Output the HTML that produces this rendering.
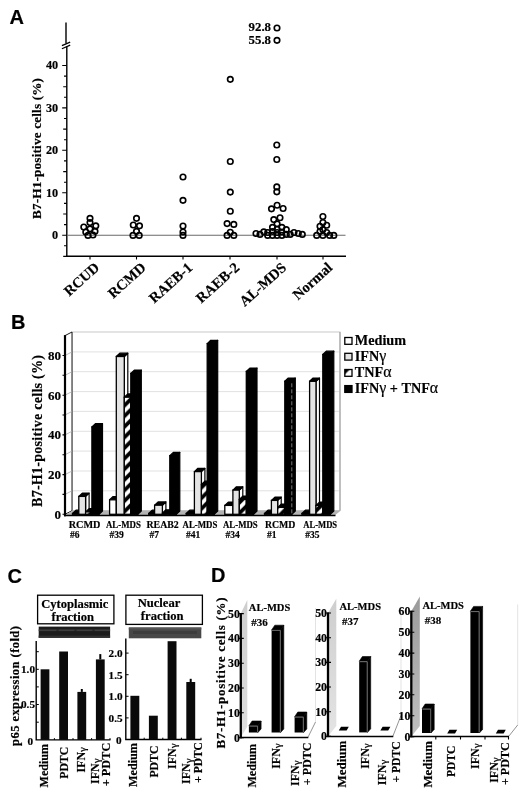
<!DOCTYPE html>
<html><head><meta charset="utf-8"><title>Figure</title>
<style>html,body{margin:0;padding:0;background:#fff}svg{display:block}text{fill:#000;stroke:#000;stroke-width:.18px}</style>
</head><body>
<svg width="520" height="788" viewBox="0 0 520 788">
<rect width="520" height="788" fill="#fff"/>
<text x="9.5" y="24.3" font-family="'Liberation Sans','DejaVu Sans',sans-serif" font-size="20" font-weight="bold" text-anchor="start">A</text>
<text x="11" y="328.6" font-family="'Liberation Sans','DejaVu Sans',sans-serif" font-size="20" font-weight="bold" text-anchor="start">B</text>
<text x="7.5" y="582.8" font-family="'Liberation Sans','DejaVu Sans',sans-serif" font-size="20" font-weight="bold" text-anchor="start">C</text>
<text x="211" y="582.3" font-family="'Liberation Sans','DejaVu Sans',sans-serif" font-size="20" font-weight="bold" text-anchor="start">D</text>
<g stroke="#000" stroke-width="1.4" fill="none">
<path d="M66 22.5V43.5M66.8 46.5V256.2"/>
<path d="M61.9 45.6L70.2 42.1M61.9 48.7L70.2 45.1" stroke-width="1.2"/>
<path d="M66.1 256.3H346" stroke-width="1.4"/>
<path d="M63.2 256.4H66.8M64.0 245.8H66.8M62.2 235.2H66.8M64.0 224.6H66.8M63.2 214.0H66.8M64.0 203.4H66.8M62.2 192.8H66.8M64.0 182.2H66.8M63.2 171.6H66.8M64.0 160.9H66.8M62.2 150.3H66.8M64.0 139.7H66.8M63.2 129.1H66.8M64.0 118.5H66.8M62.2 107.9H66.8M64.0 97.3H66.8M63.2 86.7H66.8M64.0 76.1H66.8M62.2 65.5H66.8" stroke-width="1.1"/>
<path d="M90 256.2V259.5M136.5 256.2V259.5M183 256.2V259.5M230 256.2V259.5M277 256.2V259.5M323 256.2V259.5" stroke-width="1.1"/>
</g>
<path d="M67 235.2H345.5" stroke="#6a6a6a" stroke-width="1.1"/>
<text x="58.2" y="239.1" font-family="'Liberation Serif','DejaVu Serif',serif" font-size="12.2" font-weight="bold" text-anchor="end">0</text>
<text x="58.2" y="196.7" font-family="'Liberation Serif','DejaVu Serif',serif" font-size="12.2" font-weight="bold" text-anchor="end">10</text>
<text x="58.2" y="154.2" font-family="'Liberation Serif','DejaVu Serif',serif" font-size="12.2" font-weight="bold" text-anchor="end">20</text>
<text x="58.2" y="111.8" font-family="'Liberation Serif','DejaVu Serif',serif" font-size="12.2" font-weight="bold" text-anchor="end">30</text>
<text x="58.2" y="69.4" font-family="'Liberation Serif','DejaVu Serif',serif" font-size="12.2" font-weight="bold" text-anchor="end">40</text>
<text x="41.2" y="148.5" font-family="'Liberation Serif','DejaVu Serif',serif" font-size="13.2" font-weight="bold" text-anchor="middle" transform="rotate(-90 41.2 148.5)" textLength="141" lengthAdjust="spacing">B7-H1-positive cells (%)</text>
<text x="100.3" y="268.8" font-family="'Liberation Serif','DejaVu Serif',serif" font-size="14.5" font-weight="bold" text-anchor="end" transform="rotate(-42 100.3 268.8)">RCUD</text>
<text x="146.8" y="268.8" font-family="'Liberation Serif','DejaVu Serif',serif" font-size="14.5" font-weight="bold" text-anchor="end" transform="rotate(-42 146.8 268.8)">RCMD</text>
<text x="193.3" y="268.8" font-family="'Liberation Serif','DejaVu Serif',serif" font-size="14.5" font-weight="bold" text-anchor="end" transform="rotate(-42 193.3 268.8)">RAEB-1</text>
<text x="240.3" y="268.8" font-family="'Liberation Serif','DejaVu Serif',serif" font-size="14.5" font-weight="bold" text-anchor="end" transform="rotate(-42 240.3 268.8)">RAEB-2</text>
<text x="287.3" y="268.8" font-family="'Liberation Serif','DejaVu Serif',serif" font-size="14.5" font-weight="bold" text-anchor="end" transform="rotate(-42 287.3 268.8)">AL-MDS</text>
<text x="333.3" y="268.8" font-family="'Liberation Serif','DejaVu Serif',serif" font-size="14.5" font-weight="bold" text-anchor="end" transform="rotate(-42 333.3 268.8)">Normal</text>
<text x="248.6" y="31.4" font-family="'Liberation Serif','DejaVu Serif',serif" font-size="12.5" font-weight="bold" text-anchor="start" textLength="22.4" lengthAdjust="spacingAndGlyphs">92.8</text>
<text x="248.6" y="43.8" font-family="'Liberation Serif','DejaVu Serif',serif" font-size="12.5" font-weight="bold" text-anchor="start" textLength="22.4" lengthAdjust="spacingAndGlyphs">55.8</text>
<g fill="#fff" fill-opacity="0" stroke="#000" stroke-width="1.65">
<circle cx="90" cy="218.3" r="2.75"/>
<circle cx="90" cy="222.6" r="2.75"/>
<circle cx="83.8" cy="227" r="2.75"/>
<circle cx="95.8" cy="225.8" r="2.75"/>
<circle cx="90" cy="228.8" r="2.75"/>
<circle cx="85.8" cy="232" r="2.75"/>
<circle cx="95" cy="231.3" r="2.75"/>
<circle cx="88" cy="235.4" r="2.75"/>
<circle cx="93" cy="235" r="2.75"/>
<circle cx="136.5" cy="218.3" r="2.75"/>
<circle cx="133.3" cy="225" r="2.75"/>
<circle cx="139.5" cy="225.8" r="2.75"/>
<circle cx="136.5" cy="231.3" r="2.75"/>
<circle cx="133" cy="235.4" r="2.75"/>
<circle cx="139.2" cy="235.4" r="2.75"/>
<circle cx="183" cy="177" r="2.75"/>
<circle cx="183" cy="200.3" r="2.75"/>
<circle cx="183" cy="226" r="2.75"/>
<circle cx="183" cy="232" r="2.75"/>
<circle cx="183" cy="235.4" r="2.75"/>
<circle cx="230.3" cy="79.3" r="2.75"/>
<circle cx="230.3" cy="161.5" r="2.75"/>
<circle cx="230.3" cy="192.1" r="2.75"/>
<circle cx="230.3" cy="211.2" r="2.75"/>
<circle cx="227.1" cy="223.6" r="2.75"/>
<circle cx="233.8" cy="224.4" r="2.75"/>
<circle cx="230.3" cy="232.2" r="2.75"/>
<circle cx="227.1" cy="235.4" r="2.75"/>
<circle cx="233.8" cy="235.4" r="2.75"/>
<circle cx="277" cy="28" r="2.75"/>
<circle cx="277" cy="40.3" r="2.75"/>
<circle cx="276.8" cy="145" r="2.75"/>
<circle cx="276.8" cy="159.5" r="2.75"/>
<circle cx="276.8" cy="186.9" r="2.75"/>
<circle cx="276.8" cy="191.8" r="2.75"/>
<circle cx="277.1" cy="205.2" r="2.75"/>
<circle cx="271.5" cy="208.8" r="2.75"/>
<circle cx="283.1" cy="208.5" r="2.75"/>
<circle cx="280" cy="217.7" r="2.75"/>
<circle cx="273.8" cy="219.6" r="2.75"/>
<circle cx="277.1" cy="223.8" r="2.75"/>
<circle cx="272.5" cy="227.3" r="2.75"/>
<circle cx="281.9" cy="227.3" r="2.75"/>
<circle cx="277.1" cy="229.2" r="2.75"/>
<circle cx="286.3" cy="229.6" r="2.75"/>
<circle cx="256" cy="233.5" r="2.75"/>
<circle cx="260" cy="234.4" r="2.75"/>
<circle cx="263.8" cy="231.8" r="2.75"/>
<circle cx="267.7" cy="235.4" r="2.75"/>
<circle cx="267.7" cy="232.5" r="2.75"/>
<circle cx="272.5" cy="235.4" r="2.75"/>
<circle cx="272.5" cy="231.5" r="2.75"/>
<circle cx="277.1" cy="235.4" r="2.75"/>
<circle cx="277.1" cy="232.5" r="2.75"/>
<circle cx="281.9" cy="235.4" r="2.75"/>
<circle cx="281.9" cy="232" r="2.75"/>
<circle cx="286.3" cy="234.4" r="2.75"/>
<circle cx="290.2" cy="234.4" r="2.75"/>
<circle cx="294" cy="232.5" r="2.75"/>
<circle cx="298.3" cy="233.5" r="2.75"/>
<circle cx="302.3" cy="234.4" r="2.75"/>
<circle cx="322.9" cy="216.5" r="2.75"/>
<circle cx="322.9" cy="222.5" r="2.75"/>
<circle cx="326.7" cy="225.2" r="2.75"/>
<circle cx="320" cy="226.2" r="2.75"/>
<circle cx="322.9" cy="229.6" r="2.75"/>
<circle cx="320" cy="231.5" r="2.75"/>
<circle cx="326.7" cy="232.5" r="2.75"/>
<circle cx="316.7" cy="235.4" r="2.75"/>
<circle cx="322.9" cy="235.4" r="2.75"/>
<circle cx="329.6" cy="235.4" r="2.75"/>
<circle cx="333.8" cy="235.4" r="2.75"/>
</g>
<defs><pattern id="hat" patternUnits="userSpaceOnUse" width="10.6" height="10.6"><rect width="10.6" height="10.6" fill="#fff"/><path d="M-2 12.6L12.6 -2M-2 2L2 -2M8.6 12.6L12.6 8.6" stroke="#000" stroke-width="3.8"/></pattern></defs>
<rect x="72" y="332.0" width="268" height="178.6" fill="#fff" stroke="#bbb" stroke-width="0.8"/>
<path d="M72 490.8H340M72 471.0H340M72 451.1H340M72 431.3H340M72 411.4H340M72 391.6H340M72 371.7H340M72 351.9H340" stroke="#dedede" stroke-width="0.9" fill="none"/>
<path d="M65 335.6L72 332.0V510.7L65 514.3Z" fill="#fff" stroke="#000" stroke-width="0.9"/>
<path d="M65 494.4L72 490.8M65 474.6L72 471.0M65 454.7L72 451.1M65 434.9L72 431.3M65 415.0L72 411.4M65 395.2L72 391.6M65 375.3L72 371.7M65 355.5L72 351.9" stroke="#aaa" stroke-width="0.8" fill="none"/>
<path d="M65 515.3L72 510.7H340.5L335 515.3Z" fill="#b4b4b4"/>
<path d="M64 515.5H335.5" stroke="#000" stroke-width="1.6"/>
<path d="M65 335.1V516.3" stroke="#000" stroke-width="2.2"/>
<path d="M340 332.0V510.7" stroke="#999" stroke-width="1"/>
<path d="M62.5 514.3H65M62.5 494.4H65M62.5 474.6H65M62.5 454.7H65M62.5 434.9H65M62.5 415.0H65M62.5 395.2H65M62.5 375.3H65M62.5 355.5H65" stroke="#000" stroke-width="1.1"/>
<text x="61" y="518.7" font-family="'Liberation Serif','DejaVu Serif',serif" font-size="13" font-weight="bold" text-anchor="end">0</text>
<text x="61" y="479.0" font-family="'Liberation Serif','DejaVu Serif',serif" font-size="13" font-weight="bold" text-anchor="end">20</text>
<text x="61" y="439.3" font-family="'Liberation Serif','DejaVu Serif',serif" font-size="13" font-weight="bold" text-anchor="end">40</text>
<text x="61" y="399.6" font-family="'Liberation Serif','DejaVu Serif',serif" font-size="13" font-weight="bold" text-anchor="end">60</text>
<text x="61" y="359.9" font-family="'Liberation Serif','DejaVu Serif',serif" font-size="13" font-weight="bold" text-anchor="end">80</text>
<text x="42.4" y="431" font-family="'Liberation Serif','DejaVu Serif',serif" font-size="14" font-weight="bold" text-anchor="middle" transform="rotate(-90 42.4 431)" textLength="152" lengthAdjust="spacing">B7-H1-positive cells (%)</text>
<path d="M78.8 514.3L82.3 511.0V510.2L78.8 513.5Z" fill="#fff" stroke="#000" stroke-width="1.2" stroke-linejoin="round"/>
<path d="M72.5 513.5L76.0 510.2H82.3L78.8 513.5Z" fill="#000" stroke="#000" stroke-width="1.2" stroke-linejoin="round"/>
<rect x="72.5" y="513.5" width="6.3" height="0.8" fill="#fff" stroke="#000" stroke-width="1.3"/>
<path d="M85.6 514.3L89.1 511.0V493.1L85.6 496.4Z" fill="#fff" stroke="#000" stroke-width="1.2" stroke-linejoin="round"/>
<path d="M78.8 496.4L82.3 493.1H89.1L85.6 496.4Z" fill="#000" stroke="#000" stroke-width="1.2" stroke-linejoin="round"/>
<rect x="78.8" y="496.4" width="6.8" height="17.9" fill="#e4e4e4" stroke="#000" stroke-width="1.3"/>
<path d="M91.9 514.3L95.4 511.0V508.6L91.9 511.9Z" fill="url(#hat)" stroke="#000" stroke-width="1.2" stroke-linejoin="round"/>
<path d="M85.6 511.9L89.1 508.6H95.4L91.9 511.9Z" fill="#000" stroke="#000" stroke-width="1.2" stroke-linejoin="round"/>
<rect x="85.6" y="511.9" width="6.3" height="2.4" fill="url(#hat)" stroke="#000" stroke-width="1.3"/>
<path d="M99.0 514.3L102.5 511.0V423.7L99.0 427.0Z" fill="#000" stroke="#000" stroke-width="1.2" stroke-linejoin="round"/>
<path d="M91.9 427.0L95.4 423.7H102.5L99.0 427.0Z" fill="#000" stroke="#000" stroke-width="1.2" stroke-linejoin="round"/>
<rect x="91.9" y="427.0" width="7.1" height="87.3" fill="#000" stroke="#000" stroke-width="1.3"/>
<path d="M116.3 514.3L119.8 511.0V496.5L116.3 499.8Z" fill="#fff" stroke="#000" stroke-width="1.2" stroke-linejoin="round"/>
<path d="M109.6 499.8L113.1 496.5H119.8L116.3 499.8Z" fill="#000" stroke="#000" stroke-width="1.2" stroke-linejoin="round"/>
<rect x="109.6" y="499.8" width="6.7" height="14.5" fill="#fff" stroke="#000" stroke-width="1.3"/>
<path d="M124.3 514.3L127.8 511.0V353.2L124.3 356.5Z" fill="#fff" stroke="#000" stroke-width="1.2" stroke-linejoin="round"/>
<path d="M116.3 356.5L119.8 353.2H127.8L124.3 356.5Z" fill="#000" stroke="#000" stroke-width="1.2" stroke-linejoin="round"/>
<rect x="116.3" y="356.5" width="8.0" height="157.8" fill="#e4e4e4" stroke="#000" stroke-width="1.3"/>
<path d="M130.8 514.3L134.3 511.0V393.9L130.8 397.2Z" fill="url(#hat)" stroke="#000" stroke-width="1.2" stroke-linejoin="round"/>
<path d="M124.3 397.2L127.8 393.9H134.3L130.8 397.2Z" fill="#000" stroke="#000" stroke-width="1.2" stroke-linejoin="round"/>
<rect x="124.3" y="397.2" width="6.5" height="117.1" fill="url(#hat)" stroke="#000" stroke-width="1.3"/>
<path d="M137.8 514.3L141.3 511.0V370.1L137.8 373.4Z" fill="#000" stroke="#000" stroke-width="1.2" stroke-linejoin="round"/>
<path d="M130.8 373.4L134.3 370.1H141.3L137.8 373.4Z" fill="#000" stroke="#000" stroke-width="1.2" stroke-linejoin="round"/>
<rect x="130.8" y="373.4" width="7.0" height="140.9" fill="#000" stroke="#000" stroke-width="1.3"/>
<path d="M154.6 514.3L158.1 511.0V510.2L154.6 513.5Z" fill="#fff" stroke="#000" stroke-width="1.2" stroke-linejoin="round"/>
<path d="M148.7 513.5L152.2 510.2H158.1L154.6 513.5Z" fill="#000" stroke="#000" stroke-width="1.2" stroke-linejoin="round"/>
<rect x="148.7" y="513.5" width="5.9" height="0.8" fill="#fff" stroke="#000" stroke-width="1.3"/>
<path d="M162.4 514.3L165.9 511.0V501.9L162.4 505.2Z" fill="#fff" stroke="#000" stroke-width="1.2" stroke-linejoin="round"/>
<path d="M154.6 505.2L158.1 501.9H165.9L162.4 505.2Z" fill="#000" stroke="#000" stroke-width="1.2" stroke-linejoin="round"/>
<rect x="154.6" y="505.2" width="7.8" height="9.1" fill="#e4e4e4" stroke="#000" stroke-width="1.3"/>
<path d="M169.8 514.3L173.3 511.0V509.8L169.8 513.1Z" fill="url(#hat)" stroke="#000" stroke-width="1.2" stroke-linejoin="round"/>
<path d="M162.4 513.1L165.9 509.8H173.3L169.8 513.1Z" fill="#000" stroke="#000" stroke-width="1.2" stroke-linejoin="round"/>
<rect x="162.4" y="513.1" width="7.4" height="1.2" fill="url(#hat)" stroke="#000" stroke-width="1.3"/>
<path d="M176.3 514.3L179.8 511.0V452.4L176.3 455.7Z" fill="#000" stroke="#000" stroke-width="1.2" stroke-linejoin="round"/>
<path d="M169.8 455.7L173.3 452.4H179.8L176.3 455.7Z" fill="#000" stroke="#000" stroke-width="1.2" stroke-linejoin="round"/>
<rect x="169.8" y="455.7" width="6.5" height="58.6" fill="#000" stroke="#000" stroke-width="1.3"/>
<path d="M194.4 514.3L197.9 511.0V510.2L194.4 513.5Z" fill="#fff" stroke="#000" stroke-width="1.2" stroke-linejoin="round"/>
<path d="M186.2 513.5L189.7 510.2H197.9L194.4 513.5Z" fill="#000" stroke="#000" stroke-width="1.2" stroke-linejoin="round"/>
<rect x="186.2" y="513.5" width="8.2" height="0.8" fill="#fff" stroke="#000" stroke-width="1.3"/>
<path d="M201.4 514.3L204.9 511.0V468.3L201.4 471.6Z" fill="#fff" stroke="#000" stroke-width="1.2" stroke-linejoin="round"/>
<path d="M194.4 471.6L197.9 468.3H204.9L201.4 471.6Z" fill="#000" stroke="#000" stroke-width="1.2" stroke-linejoin="round"/>
<rect x="194.4" y="471.6" width="7.0" height="42.7" fill="#e4e4e4" stroke="#000" stroke-width="1.3"/>
<path d="M207.2 514.3L210.7 511.0V481.2L207.2 484.5Z" fill="url(#hat)" stroke="#000" stroke-width="1.2" stroke-linejoin="round"/>
<path d="M201.4 484.5L204.9 481.2H210.7L207.2 484.5Z" fill="#000" stroke="#000" stroke-width="1.2" stroke-linejoin="round"/>
<rect x="201.4" y="484.5" width="5.8" height="29.8" fill="url(#hat)" stroke="#000" stroke-width="1.3"/>
<path d="M214.2 514.3L217.7 511.0V340.3L214.2 343.6Z" fill="#000" stroke="#000" stroke-width="1.2" stroke-linejoin="round"/>
<path d="M207.2 343.6L210.7 340.3H217.7L214.2 343.6Z" fill="#000" stroke="#000" stroke-width="1.2" stroke-linejoin="round"/>
<rect x="207.2" y="343.6" width="7.0" height="170.7" fill="#000" stroke="#000" stroke-width="1.3"/>
<path d="M232.9 514.3L236.4 511.0V502.1L232.9 505.4Z" fill="#fff" stroke="#000" stroke-width="1.2" stroke-linejoin="round"/>
<path d="M224.8 505.4L228.3 502.1H236.4L232.9 505.4Z" fill="#000" stroke="#000" stroke-width="1.2" stroke-linejoin="round"/>
<rect x="224.8" y="505.4" width="8.1" height="8.9" fill="#fff" stroke="#000" stroke-width="1.3"/>
<path d="M239.3 514.3L242.8 511.0V486.8L239.3 490.1Z" fill="#fff" stroke="#000" stroke-width="1.2" stroke-linejoin="round"/>
<path d="M232.9 490.1L236.4 486.8H242.8L239.3 490.1Z" fill="#000" stroke="#000" stroke-width="1.2" stroke-linejoin="round"/>
<rect x="232.9" y="490.1" width="6.4" height="24.2" fill="#e4e4e4" stroke="#000" stroke-width="1.3"/>
<path d="M246.3 514.3L249.8 511.0V496.1L246.3 499.4Z" fill="url(#hat)" stroke="#000" stroke-width="1.2" stroke-linejoin="round"/>
<path d="M239.3 499.4L242.8 496.1H249.8L246.3 499.4Z" fill="#000" stroke="#000" stroke-width="1.2" stroke-linejoin="round"/>
<rect x="239.3" y="499.4" width="7.0" height="14.9" fill="url(#hat)" stroke="#000" stroke-width="1.3"/>
<path d="M253.5 514.3L257.0 511.0V368.1L253.5 371.4Z" fill="#000" stroke="#000" stroke-width="1.2" stroke-linejoin="round"/>
<path d="M246.3 371.4L249.8 368.1H257.0L253.5 371.4Z" fill="#000" stroke="#000" stroke-width="1.2" stroke-linejoin="round"/>
<rect x="246.3" y="371.4" width="7.2" height="142.9" fill="#000" stroke="#000" stroke-width="1.3"/>
<path d="M271.4 514.3L274.9 511.0V510.2L271.4 513.5Z" fill="#fff" stroke="#000" stroke-width="1.2" stroke-linejoin="round"/>
<path d="M264.5 513.5L268.0 510.2H274.9L271.4 513.5Z" fill="#000" stroke="#000" stroke-width="1.2" stroke-linejoin="round"/>
<rect x="264.5" y="513.5" width="6.9" height="0.8" fill="#fff" stroke="#000" stroke-width="1.3"/>
<path d="M277.7 514.3L281.2 511.0V497.1L277.7 500.4Z" fill="#fff" stroke="#000" stroke-width="1.2" stroke-linejoin="round"/>
<path d="M271.4 500.4L274.9 497.1H281.2L277.7 500.4Z" fill="#000" stroke="#000" stroke-width="1.2" stroke-linejoin="round"/>
<rect x="271.4" y="500.4" width="6.3" height="13.9" fill="#e4e4e4" stroke="#000" stroke-width="1.3"/>
<path d="M284.8 514.3L288.3 511.0V504.1L284.8 507.4Z" fill="url(#hat)" stroke="#000" stroke-width="1.2" stroke-linejoin="round"/>
<path d="M277.7 507.4L281.2 504.1H288.3L284.8 507.4Z" fill="#000" stroke="#000" stroke-width="1.2" stroke-linejoin="round"/>
<rect x="277.7" y="507.4" width="7.1" height="6.9" fill="url(#hat)" stroke="#000" stroke-width="1.3"/>
<path d="M291.8 514.3L295.3 511.0V378.0L291.8 381.3Z" fill="#000" stroke="#000" stroke-width="1.2" stroke-linejoin="round"/>
<path d="M284.8 381.3L288.3 378.0H295.3L291.8 381.3Z" fill="#000" stroke="#000" stroke-width="1.2" stroke-linejoin="round"/>
<rect x="284.8" y="381.3" width="7.0" height="133.0" fill="#000" stroke="#000" stroke-width="1.3"/>
<path d="M291.8 383.3V514.3" stroke="#999" stroke-width="0.8" stroke-dasharray="4 2"/>
<path d="M309.6 514.3L313.1 511.0V510.2L309.6 513.5Z" fill="#fff" stroke="#000" stroke-width="1.2" stroke-linejoin="round"/>
<path d="M301.9 513.5L305.4 510.2H313.1L309.6 513.5Z" fill="#000" stroke="#000" stroke-width="1.2" stroke-linejoin="round"/>
<rect x="301.9" y="513.5" width="7.7" height="0.8" fill="#fff" stroke="#000" stroke-width="1.3"/>
<path d="M316.0 514.3L319.5 511.0V378.0L316.0 381.3Z" fill="#fff" stroke="#000" stroke-width="1.2" stroke-linejoin="round"/>
<path d="M309.6 381.3L313.1 378.0H319.5L316.0 381.3Z" fill="#000" stroke="#000" stroke-width="1.2" stroke-linejoin="round"/>
<rect x="309.6" y="381.3" width="6.4" height="133.0" fill="#e4e4e4" stroke="#000" stroke-width="1.3"/>
<path d="M322.8 514.3L326.3 511.0V502.1L322.8 505.4Z" fill="url(#hat)" stroke="#000" stroke-width="1.2" stroke-linejoin="round"/>
<path d="M316.0 505.4L319.5 502.1H326.3L322.8 505.4Z" fill="#000" stroke="#000" stroke-width="1.2" stroke-linejoin="round"/>
<rect x="316.0" y="505.4" width="6.8" height="8.9" fill="url(#hat)" stroke="#000" stroke-width="1.3"/>
<path d="M330.3 514.3L333.8 511.0V351.2L330.3 354.5Z" fill="#000" stroke="#000" stroke-width="1.2" stroke-linejoin="round"/>
<path d="M322.8 354.5L326.3 351.2H333.8L330.3 354.5Z" fill="#000" stroke="#000" stroke-width="1.2" stroke-linejoin="round"/>
<rect x="322.8" y="354.5" width="7.5" height="159.8" fill="#000" stroke="#000" stroke-width="1.3"/>
<text x="68.7" y="527.6" font-family="'Liberation Serif','DejaVu Serif',serif" font-size="10.2" font-weight="bold" text-anchor="start" textLength="31.7" lengthAdjust="spacingAndGlyphs">RCMD</text>
<text x="106" y="527.6" font-family="'Liberation Serif','DejaVu Serif',serif" font-size="9.3" font-weight="bold" text-anchor="start" textLength="34.8" lengthAdjust="spacingAndGlyphs">AL-MDS</text>
<text x="146.5" y="527.6" font-family="'Liberation Serif','DejaVu Serif',serif" font-size="10.2" font-weight="bold" text-anchor="start" textLength="32.3" lengthAdjust="spacingAndGlyphs">REAB2</text>
<text x="182.6" y="527.6" font-family="'Liberation Serif','DejaVu Serif',serif" font-size="9.3" font-weight="bold" text-anchor="start" textLength="34.8" lengthAdjust="spacingAndGlyphs">AL-MDS</text>
<text x="223" y="527.6" font-family="'Liberation Serif','DejaVu Serif',serif" font-size="9.3" font-weight="bold" text-anchor="start" textLength="34.7" lengthAdjust="spacingAndGlyphs">AL-MDS</text>
<text x="264.9" y="527.6" font-family="'Liberation Serif','DejaVu Serif',serif" font-size="10.2" font-weight="bold" text-anchor="start" textLength="30.5" lengthAdjust="spacingAndGlyphs">RCMD</text>
<text x="303.3" y="527.6" font-family="'Liberation Serif','DejaVu Serif',serif" font-size="9.3" font-weight="bold" text-anchor="start" textLength="33.8" lengthAdjust="spacingAndGlyphs">AL-MDS</text>
<text x="70" y="538.2" font-family="'Liberation Serif','DejaVu Serif',serif" font-size="9.5" font-weight="bold" text-anchor="start">#6</text>
<text x="109.6" y="538.2" font-family="'Liberation Serif','DejaVu Serif',serif" font-size="9.5" font-weight="bold" text-anchor="start">#39</text>
<text x="149.4" y="538.2" font-family="'Liberation Serif','DejaVu Serif',serif" font-size="9.5" font-weight="bold" text-anchor="start">#7</text>
<text x="186" y="538.2" font-family="'Liberation Serif','DejaVu Serif',serif" font-size="9.5" font-weight="bold" text-anchor="start">#41</text>
<text x="225.4" y="538.2" font-family="'Liberation Serif','DejaVu Serif',serif" font-size="9.5" font-weight="bold" text-anchor="start">#34</text>
<text x="267" y="538.2" font-family="'Liberation Serif','DejaVu Serif',serif" font-size="9.5" font-weight="bold" text-anchor="start">#1</text>
<text x="305.3" y="538.2" font-family="'Liberation Serif','DejaVu Serif',serif" font-size="9.5" font-weight="bold" text-anchor="start">#35</text>
<defs><pattern id="hat2" patternUnits="userSpaceOnUse" width="8" height="8" x="344.6" y="369.6"><rect width="8" height="8" fill="#fff"/><path d="M0 0H5L0 5Z" fill="#000"/></pattern></defs>
<rect x="344.8" y="337.5" width="7.2" height="6.8" fill="#fff" stroke="#000" stroke-width="1.3"/>
<rect x="344.8" y="353.3" width="7.2" height="6.8" fill="#e4e4e4" stroke="#000" stroke-width="1.3"/>
<rect x="344.8" y="369.5" width="7.2" height="6.8" fill="url(#hat2)" stroke="#000" stroke-width="1.3"/>
<rect x="344.8" y="385.6" width="7.2" height="6.8" fill="#000" stroke="#000" stroke-width="1.3"/>
<text x="354.8" y="344.6" font-family="'Liberation Serif','DejaVu Serif',serif" font-size="14.2" font-weight="bold" text-anchor="start">Medium</text>
<text x="354.8" y="360.8" font-family="'Liberation Serif','DejaVu Serif',serif" font-size="14.2" font-weight="bold" text-anchor="start">IFN<tspan font-weight="normal" font-size="112%">γ</tspan></text>
<text x="354.8" y="377" font-family="'Liberation Serif','DejaVu Serif',serif" font-size="14.2" font-weight="bold" text-anchor="start">TNF<tspan font-weight="normal" font-size="112%">α</tspan></text>
<text x="354.8" y="393.1" font-family="'Liberation Serif','DejaVu Serif',serif" font-size="14.2" font-weight="bold" text-anchor="start">IFN<tspan font-weight="normal" font-size="112%">γ</tspan> + TNF<tspan font-weight="normal" font-size="112%">α</tspan></text>
<rect x="37.6" y="595.2" width="76.3" height="28.6" fill="#fff" stroke="#000" stroke-width="1.3"/>
<text x="74.8" y="607.6" font-family="'Liberation Serif','DejaVu Serif',serif" font-size="12.6" font-weight="bold" text-anchor="middle">Cytoplasmic</text>
<text x="72.8" y="620.8" font-family="'Liberation Serif','DejaVu Serif',serif" font-size="12.6" font-weight="bold" text-anchor="middle">fraction</text>
<rect x="38.7" y="626.6" width="71.4" height="11.2" fill="#1c1c1c"/>
<rect x="38.7" y="629.4" width="71.4" height="1.7" fill="#3d3d3d"/>
<rect x="38.7" y="635.6" width="71.4" height="2.2" fill="#303030"/>
<rect x="56.5" y="629.4" width="2" height="1.7" fill="#242424"/>
<rect x="74.5" y="629.4" width="2" height="1.7" fill="#242424"/>
<rect x="92.5" y="629.4" width="2" height="1.7" fill="#242424"/>
<g stroke="#000" fill="none">
<path d="M36.2 641V740.5M35.5 739.9H110.5" stroke-width="1.4"/>
<path d="M36.2 722.2h2.6M36.2 704.5h2.6M36.2 686.9h2.6M36.2 669.3h2.6M36.2 651.7h2.6M54.4 739.9v-1.8M73 739.9v-1.8M91.6 739.9v-1.8M110 739.9v-1.8" stroke-width="1"/>
</g>
<rect x="40.6" y="669.3" width="8.8" height="70.6" fill="#0a0a0a"/>
<rect x="59.2" y="651.5" width="8.8" height="88.4" fill="#0a0a0a"/>
<rect x="77.4" y="691.9" width="8.8" height="48.0" fill="#0a0a0a"/>
<path d="M81.80000000000001 691.9V689.0" stroke="#000" stroke-width="2"/>
<rect x="95.9" y="659.4" width="8.8" height="80.5" fill="#0a0a0a"/>
<path d="M100.30000000000001 659.4V654.1" stroke="#000" stroke-width="2"/>
<text x="35" y="673.0" font-family="'Liberation Serif','DejaVu Serif',serif" font-size="11.2" font-weight="bold" text-anchor="end">1.0</text>
<text x="35" y="708.4" font-family="'Liberation Serif','DejaVu Serif',serif" font-size="11.2" font-weight="bold" text-anchor="end">0.5</text>
<text x="33.2" y="744.6" font-family="'Liberation Serif','DejaVu Serif',serif" font-size="11.2" font-weight="bold" text-anchor="end">0</text>
<text x="19.3" y="686" font-family="'Liberation Serif','DejaVu Serif',serif" font-size="12.6" font-weight="bold" text-anchor="middle" transform="rotate(-90 19.3 686)" textLength="120" lengthAdjust="spacing">p65 expression (fold)</text>
<text x="47.7" y="787.5" font-family="'Liberation Serif','DejaVu Serif',serif" font-size="12" font-weight="bold" text-anchor="start" transform="rotate(-90 47.7 787.5)" textLength="43.6" lengthAdjust="spacingAndGlyphs">Medium</text>
<text x="68" y="778.8" font-family="'Liberation Serif','DejaVu Serif',serif" font-size="12" font-weight="bold" text-anchor="start" transform="rotate(-90 68 778.8)" textLength="32" lengthAdjust="spacingAndGlyphs">PDTC</text>
<text x="85.2" y="772.6" font-family="'Liberation Serif','DejaVu Serif',serif" font-size="12" font-weight="bold" text-anchor="start" transform="rotate(-90 85.2 772.6)">IFN<tspan font-weight="normal" dy="1.2" font-size="92%">γ</tspan></text>
<text x="99.2" y="784" font-family="'Liberation Serif','DejaVu Serif',serif" font-size="12" font-weight="bold" text-anchor="start" transform="rotate(-90 99.2 784)">IFN<tspan font-weight="normal" dy="1.2" font-size="92%">γ</tspan></text>
<text x="109.8" y="786.2" font-family="'Liberation Serif','DejaVu Serif',serif" font-size="12" font-weight="bold" text-anchor="start" transform="rotate(-90 109.8 786.2)" textLength="43.5" lengthAdjust="spacingAndGlyphs">+ PDTC</text>
<rect x="125.9" y="595.2" width="76.5" height="29.2" fill="#fff" stroke="#000" stroke-width="1.3"/>
<text x="159" y="607.2" font-family="'Liberation Serif','DejaVu Serif',serif" font-size="12.6" font-weight="bold" text-anchor="middle">Nuclear</text>
<text x="162.2" y="620.2" font-family="'Liberation Serif','DejaVu Serif',serif" font-size="12.6" font-weight="bold" text-anchor="middle">fraction</text>
<rect x="128.8" y="627.5" width="72.5" height="10.8" fill="#474747"/>
<rect x="128.8" y="627.5" width="72.5" height="2" fill="#555"/>
<rect x="133" y="631" width="64" height="3" fill="#3c3c3c"/>
<g stroke="#000" fill="none">
<path d="M125.8 638.5V740.2M125.1 739.5H201.5" stroke-width="1.4"/>
<path d="M125.8 717.9h2.8M125.8 696.3h2.8M125.8 674.7h2.8M125.8 653.1h2.8M144.2 739.5v-1.8M162.8 739.5v-1.8M181.4 739.5v-1.8M201 739.5v-1.8" stroke-width="1"/>
</g>
<rect x="130.4" y="695.8" width="8.9" height="43.8" fill="#0a0a0a"/>
<rect x="148.9" y="715.7" width="8.9" height="23.9" fill="#0a0a0a"/>
<rect x="167.6" y="641.2" width="8.9" height="98.4" fill="#0a0a0a"/>
<rect x="186.3" y="682.0" width="8.9" height="57.6" fill="#0a0a0a"/>
<path d="M190.70000000000002 682.0V678.8" stroke="#000" stroke-width="2"/>
<text x="122.6" y="656.9" font-family="'Liberation Serif','DejaVu Serif',serif" font-size="11.2" font-weight="bold" text-anchor="end">2.0</text>
<text x="122.6" y="678.5" font-family="'Liberation Serif','DejaVu Serif',serif" font-size="11.2" font-weight="bold" text-anchor="end">1.5</text>
<text x="122.6" y="700.1" font-family="'Liberation Serif','DejaVu Serif',serif" font-size="11.2" font-weight="bold" text-anchor="end">1.0</text>
<text x="122.6" y="721.7" font-family="'Liberation Serif','DejaVu Serif',serif" font-size="11.2" font-weight="bold" text-anchor="end">0.5</text>
<text x="121.5" y="744" font-family="'Liberation Serif','DejaVu Serif',serif" font-size="11.2" font-weight="bold" text-anchor="end">0</text>
<text x="137.4" y="787" font-family="'Liberation Serif','DejaVu Serif',serif" font-size="12" font-weight="bold" text-anchor="start" transform="rotate(-90 137.4 787)" textLength="44" lengthAdjust="spacingAndGlyphs">Medium</text>
<text x="157.6" y="777.6" font-family="'Liberation Serif','DejaVu Serif',serif" font-size="12" font-weight="bold" text-anchor="start" transform="rotate(-90 157.6 777.6)" textLength="32" lengthAdjust="spacingAndGlyphs">PDTC</text>
<text x="175.6" y="769" font-family="'Liberation Serif','DejaVu Serif',serif" font-size="12" font-weight="bold" text-anchor="start" transform="rotate(-90 175.6 769)">IFN<tspan font-weight="normal" dy="1.2" font-size="92%">γ</tspan></text>
<text x="190.4" y="784" font-family="'Liberation Serif','DejaVu Serif',serif" font-size="12" font-weight="bold" text-anchor="start" transform="rotate(-90 190.4 784)">IFN<tspan font-weight="normal" dy="1.2" font-size="92%">γ</tspan></text>
<text x="202.2" y="782.7" font-family="'Liberation Serif','DejaVu Serif',serif" font-size="12" font-weight="bold" text-anchor="start" transform="rotate(-90 202.2 782.7)" textLength="40.5" lengthAdjust="spacingAndGlyphs">+ PDTC</text>
<defs>
<linearGradient id="w1" x1="0" y1="0" x2="0" y2="1"><stop offset="0" stop-color="#cdcdcd"/><stop offset="1" stop-color="#dedede"/></linearGradient>
<linearGradient id="w2" x1="0" y1="0" x2="0" y2="1"><stop offset="0" stop-color="#cecece"/><stop offset="1" stop-color="#e4e4e4"/></linearGradient>
<linearGradient id="w3" x1="0" y1="0" x2="0" y2="1"><stop offset="0" stop-color="#9a9a9a"/><stop offset="1" stop-color="#c0c0c0"/></linearGradient>
</defs>
<text x="225" y="673" font-family="'Liberation Serif','DejaVu Serif',serif" font-size="13" font-weight="bold" text-anchor="middle" transform="rotate(-90 225 673)" textLength="151" lengthAdjust="spacing">B7-H1-positive cells (%)</text>
<path d="M240.8 613.6L247.3 600V726.5L240.8 737.6Z" fill="url(#w1)"/>
<path d="M315.5 722V608" stroke="#e0e0e0" stroke-width="0.9"/>
<path d="M307.8 737.6L315.5 722" stroke="#888" stroke-width="0.9"/>
<path d="M239.8 737.6H308.3" stroke="#000" stroke-width="1.5"/>
<path d="M240.8 613.1V738.3000000000001" stroke="#000" stroke-width="2.3"/>
<text x="239.8" y="741.5" font-family="'Liberation Serif','DejaVu Serif',serif" font-size="11.8" font-weight="bold" text-anchor="end">0</text>
<text x="239.8" y="716.7" font-family="'Liberation Serif','DejaVu Serif',serif" font-size="11.8" font-weight="bold" text-anchor="end">10</text>
<text x="239.8" y="691.9" font-family="'Liberation Serif','DejaVu Serif',serif" font-size="11.8" font-weight="bold" text-anchor="end">20</text>
<text x="239.8" y="667.1" font-family="'Liberation Serif','DejaVu Serif',serif" font-size="11.8" font-weight="bold" text-anchor="end">30</text>
<text x="239.8" y="642.3" font-family="'Liberation Serif','DejaVu Serif',serif" font-size="11.8" font-weight="bold" text-anchor="end">40</text>
<text x="239.8" y="617.5" font-family="'Liberation Serif','DejaVu Serif',serif" font-size="11.8" font-weight="bold" text-anchor="end">50</text>
<path d="M238.8 737.6h5M238.8 712.8h5M238.8 688.0h5M238.8 663.2h5M238.8 638.4h5M238.8 613.6h5" stroke="#000" stroke-width="1.1"/>
<text x="248.8" y="611.3" font-family="'Liberation Serif','DejaVu Serif',serif" font-size="10.6" font-weight="bold" text-anchor="start" textLength="41.5" lengthAdjust="spacingAndGlyphs">AL-MDS</text>
<text x="251.20000000000002" y="626.0999999999999" font-family="'Liberation Serif','DejaVu Serif',serif" font-size="11" font-weight="bold" text-anchor="start">#36</text>
<path d="M257.9 732.5L261.09999999999997 728.9000000000001V721.0L257.9 725.8Z" fill="#000" stroke="#000" stroke-width="0.6"/>
<path d="M248.9 725.8L252.1 721.0H261.09999999999997L257.9 725.8Z" fill="#000" stroke="#000" stroke-width="0.6"/>
<rect x="248.9" y="725.8" width="9" height="6.7" fill="#000"/>
<path d="M249.3 726.1999999999999H257.59999999999997V732.0" fill="none" stroke="#999" stroke-width="0.7"/>
<path d="M280.6 732.5L283.8 728.9000000000001V625.2L280.6 630Z" fill="#000" stroke="#000" stroke-width="0.6"/>
<path d="M271.6 630L274.8 625.2H283.8L280.6 630Z" fill="#000" stroke="#000" stroke-width="0.6"/>
<rect x="271.6" y="630" width="9" height="102.5" fill="#000"/>
<path d="M272.0 630.4H280.3V732.0" fill="none" stroke="#999" stroke-width="0.7"/>
<path d="M303.6 732.5L306.8 728.9000000000001V712.0L303.6 716.8Z" fill="#000" stroke="#000" stroke-width="0.6"/>
<path d="M294.6 716.8L297.8 712.0H306.8L303.6 716.8Z" fill="#000" stroke="#000" stroke-width="0.6"/>
<rect x="294.6" y="716.8" width="9" height="15.7" fill="#000"/>
<path d="M295.0 717.1999999999999H303.3V732.0" fill="none" stroke="#999" stroke-width="0.7"/>
<path d="M328 613L336.3 598.8V726L328 736.4Z" fill="url(#w2)"/>
<path d="M401 715.5V606.8" stroke="#e0e0e0" stroke-width="0.9"/>
<path d="M392.8 736.4L401 715.5" stroke="#888" stroke-width="0.9"/>
<path d="M327 736.4H393.3" stroke="#000" stroke-width="1.5"/>
<path d="M328 612.5V737.1" stroke="#000" stroke-width="2.3"/>
<text x="327" y="740.3" font-family="'Liberation Serif','DejaVu Serif',serif" font-size="11.8" font-weight="bold" text-anchor="end">0</text>
<text x="327" y="715.6" font-family="'Liberation Serif','DejaVu Serif',serif" font-size="11.8" font-weight="bold" text-anchor="end">10</text>
<text x="327" y="690.9" font-family="'Liberation Serif','DejaVu Serif',serif" font-size="11.8" font-weight="bold" text-anchor="end">20</text>
<text x="327" y="666.3" font-family="'Liberation Serif','DejaVu Serif',serif" font-size="11.8" font-weight="bold" text-anchor="end">30</text>
<text x="327" y="641.6" font-family="'Liberation Serif','DejaVu Serif',serif" font-size="11.8" font-weight="bold" text-anchor="end">40</text>
<text x="327" y="616.9" font-family="'Liberation Serif','DejaVu Serif',serif" font-size="11.8" font-weight="bold" text-anchor="end">50</text>
<path d="M326 736.4h5M326 711.7h5M326 687.0h5M326 662.4h5M326 637.7h5M326 613.0h5" stroke="#000" stroke-width="1.1"/>
<text x="339.5" y="610" font-family="'Liberation Serif','DejaVu Serif',serif" font-size="10.6" font-weight="bold" text-anchor="start" textLength="41.5" lengthAdjust="spacingAndGlyphs">AL-MDS</text>
<text x="341.9" y="624.8" font-family="'Liberation Serif','DejaVu Serif',serif" font-size="11" font-weight="bold" text-anchor="start">#37</text>
<path d="M338.8 730.4L341 726.6999999999999H348.8L346.6 730.4Z" fill="#000"/>
<path d="M367.5 732.4L370.7 728.8000000000001V656.5L367.5 661.3Z" fill="#000" stroke="#000" stroke-width="0.6"/>
<path d="M359.2 661.3L362.4 656.5H370.7L367.5 661.3Z" fill="#000" stroke="#000" stroke-width="0.6"/>
<rect x="359.2" y="661.3" width="8.3" height="71.1" fill="#000"/>
<path d="M359.59999999999997 661.6999999999999H367.2V731.9" fill="none" stroke="#999" stroke-width="0.7"/>
<path d="M380.40000000000003 730.4L382.6 726.6999999999999H390.40000000000003L388.20000000000005 730.4Z" fill="#000"/>
<path d="M411.3 611.3L419.8 596.5V726L411.3 736.6Z" fill="url(#w3)"/>
<path d="M517.7 725V604.5" stroke="#e0e0e0" stroke-width="0.9"/>
<path d="M508.5 736.6L517.7 725" stroke="#888" stroke-width="0.9"/>
<path d="M410.3 736.6H509.0" stroke="#000" stroke-width="1.5"/>
<path d="M411.3 610.8V737.3000000000001" stroke="#000" stroke-width="2.3"/>
<text x="410.3" y="740.5" font-family="'Liberation Serif','DejaVu Serif',serif" font-size="11.8" font-weight="bold" text-anchor="end">0</text>
<text x="410.3" y="719.6" font-family="'Liberation Serif','DejaVu Serif',serif" font-size="11.8" font-weight="bold" text-anchor="end">10</text>
<text x="410.3" y="698.7" font-family="'Liberation Serif','DejaVu Serif',serif" font-size="11.8" font-weight="bold" text-anchor="end">20</text>
<text x="410.3" y="677.9" font-family="'Liberation Serif','DejaVu Serif',serif" font-size="11.8" font-weight="bold" text-anchor="end">30</text>
<text x="410.3" y="657.0" font-family="'Liberation Serif','DejaVu Serif',serif" font-size="11.8" font-weight="bold" text-anchor="end">40</text>
<text x="410.3" y="636.1" font-family="'Liberation Serif','DejaVu Serif',serif" font-size="11.8" font-weight="bold" text-anchor="end">50</text>
<text x="410.3" y="615.2" font-family="'Liberation Serif','DejaVu Serif',serif" font-size="11.8" font-weight="bold" text-anchor="end">60</text>
<path d="M409.3 736.6h5M409.3 715.7h5M409.3 694.8h5M409.3 674.0h5M409.3 653.1h5M409.3 632.2h5M409.3 611.3h5" stroke="#000" stroke-width="1.1"/>
<path d="M435.8 736.6v3M460.5 736.6v3M485 736.6v3M508.5 736.6v3" stroke="#000" stroke-width="1.1"/>
<text x="422.4" y="609.4" font-family="'Liberation Serif','DejaVu Serif',serif" font-size="10.6" font-weight="bold" text-anchor="start" textLength="41.5" lengthAdjust="spacingAndGlyphs">AL-MDS</text>
<text x="424.79999999999995" y="624.1999999999999" font-family="'Liberation Serif','DejaVu Serif',serif" font-size="11" font-weight="bold" text-anchor="start">#38</text>
<path d="M431 733L434.2 729.4000000000001V704.0L431 708.8Z" fill="#000" stroke="#000" stroke-width="0.6"/>
<path d="M422 708.8L425.2 704.0H434.2L431 708.8Z" fill="#000" stroke="#000" stroke-width="0.6"/>
<rect x="422" y="708.8" width="9" height="24.2" fill="#000"/>
<path d="M422.4 709.1999999999999H430.7V732.5" fill="none" stroke="#999" stroke-width="0.7"/>
<path d="M447.2 733.4L449.4 729.6999999999999H457.2L455.0 733.4Z" fill="#000"/>
<path d="M479.4 733L482.59999999999997 729.4000000000001V606.4000000000001L479.4 611.2Z" fill="#000" stroke="#000" stroke-width="0.6"/>
<path d="M470.4 611.2L473.59999999999997 606.4000000000001H482.59999999999997L479.4 611.2Z" fill="#000" stroke="#000" stroke-width="0.6"/>
<rect x="470.4" y="611.2" width="9" height="121.8" fill="#000"/>
<path d="M470.79999999999995 611.6H479.09999999999997V732.5" fill="none" stroke="#999" stroke-width="0.7"/>
<path d="M495.8 733.4L498 729.6999999999999H505.8L503.6 733.4Z" fill="#000"/>
<text x="255.8" y="787.6" font-family="'Liberation Serif','DejaVu Serif',serif" font-size="12" font-weight="bold" text-anchor="start" transform="rotate(-90 255.8 787.6)" textLength="43.8" lengthAdjust="spacingAndGlyphs">Medium</text>
<text x="280.2" y="768.8" font-family="'Liberation Serif','DejaVu Serif',serif" font-size="12" font-weight="bold" text-anchor="start" transform="rotate(-90 280.2 768.8)">IFN<tspan font-weight="normal" dy="1.2" font-size="92%">γ</tspan></text>
<text x="298.6" y="786" font-family="'Liberation Serif','DejaVu Serif',serif" font-size="12" font-weight="bold" text-anchor="start" transform="rotate(-90 298.6 786)">IFN<tspan font-weight="normal" dy="1.2" font-size="92%">γ</tspan></text>
<text x="310.6" y="785.2" font-family="'Liberation Serif','DejaVu Serif',serif" font-size="12" font-weight="bold" text-anchor="start" transform="rotate(-90 310.6 785.2)" textLength="42.8" lengthAdjust="spacingAndGlyphs">+ PDTC</text>
<text x="346" y="787.6" font-family="'Liberation Serif','DejaVu Serif',serif" font-size="12" font-weight="bold" text-anchor="start" transform="rotate(-90 346 787.6)" textLength="47" lengthAdjust="spacingAndGlyphs">Medium</text>
<text x="368.6" y="768.8" font-family="'Liberation Serif','DejaVu Serif',serif" font-size="12" font-weight="bold" text-anchor="start" transform="rotate(-90 368.6 768.8)">IFN<tspan font-weight="normal" dy="1.2" font-size="92%">γ</tspan></text>
<text x="385.8" y="785.2" font-family="'Liberation Serif','DejaVu Serif',serif" font-size="12" font-weight="bold" text-anchor="start" transform="rotate(-90 385.8 785.2)">IFN<tspan font-weight="normal" dy="1.2" font-size="92%">γ</tspan></text>
<text x="399.8" y="782.6" font-family="'Liberation Serif','DejaVu Serif',serif" font-size="12" font-weight="bold" text-anchor="start" transform="rotate(-90 399.8 782.6)" textLength="41.4" lengthAdjust="spacingAndGlyphs">+ PDTC</text>
<text x="432" y="787.6" font-family="'Liberation Serif','DejaVu Serif',serif" font-size="12" font-weight="bold" text-anchor="start" transform="rotate(-90 432 787.6)" textLength="46.5" lengthAdjust="spacingAndGlyphs">Medium</text>
<text x="455.2" y="777.1" font-family="'Liberation Serif','DejaVu Serif',serif" font-size="12" font-weight="bold" text-anchor="start" transform="rotate(-90 455.2 777.1)" textLength="31.4" lengthAdjust="spacingAndGlyphs">PDTC</text>
<text x="479.3" y="769" font-family="'Liberation Serif','DejaVu Serif',serif" font-size="12" font-weight="bold" text-anchor="start" transform="rotate(-90 479.3 769)">IFN<tspan font-weight="normal" dy="1.2" font-size="92%">γ</tspan></text>
<text x="497.6" y="782.8" font-family="'Liberation Serif','DejaVu Serif',serif" font-size="12" font-weight="bold" text-anchor="start" transform="rotate(-90 497.6 782.8)">IFN<tspan font-weight="normal" dy="1.2" font-size="92%">γ</tspan></text>
<text x="509.4" y="785.1" font-family="'Liberation Serif','DejaVu Serif',serif" font-size="12" font-weight="bold" text-anchor="start" transform="rotate(-90 509.4 785.1)" textLength="42.8" lengthAdjust="spacingAndGlyphs">+ PDTC</text>
</svg>
</body></html>
